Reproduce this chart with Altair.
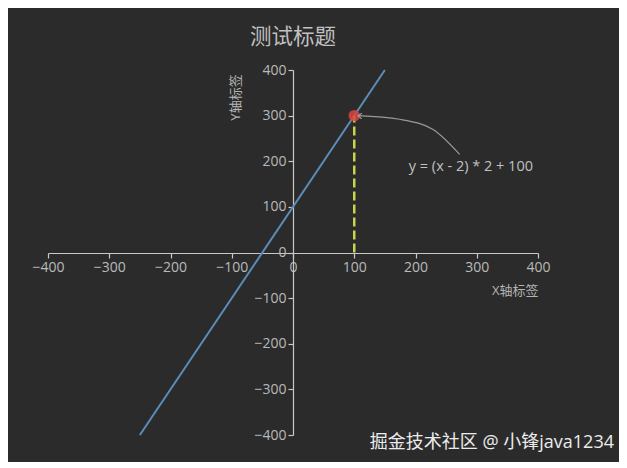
import altair as alt
import pandas as pd

# ---- data ----
line_x = [-250, 150]
line_y = [-400, 400]
point_x = [100]
point_y = [300]
drop_x = [100, 100]
drop_y = [0, 300]
arrow_x = [272, 228, 174, 106]
arrow_y = [215, 270, 292, 300]
note_x = [189]
note_y = [188]
note_text = ["y = (x - 2) * 2 + 100"]
tick_values = [-400, -300, -200, -100, 0, 100, 200, 300, 400]
title_text = "测试标题"
x_title = "X轴标签"
y_title = "Y轴标签"
watermark = "掘金技术社区 @ 小锋java1234"

FONT = "Open Sans, Noto Sans CJK SC"
BG = "#2b2b2b"

xs = alt.Scale(domain=[-400, 400], nice=False, zero=False)
ys = alt.Scale(domain=[-400, 400], nice=False, zero=False)

line_df = pd.DataFrame({"x": line_x, "y": line_y})
pt_df = pd.DataFrame({"x": point_x, "y": point_y})
drop_df = pd.DataFrame({"x": drop_x, "y": drop_y})
arrow_df = pd.DataFrame({"x": arrow_x, "y": arrow_y, "o": list(range(len(arrow_x)))})
head_df = pd.DataFrame({"x": arrow_x[-1:], "y": arrow_y[-1:]})
note_df = pd.DataFrame({"x": note_x, "y": note_y, "t": note_text})
wm_df = pd.DataFrame({"t": [watermark]})

axis_common = dict(
    values=tick_values, grid=False, domainColor="#c8c8c8", tickColor="#c8c8c8",
    labelColor="#bababa", labelFontSize=14, labelFont=FONT, labelOverlap=False,
    labelFlush=False, tickSize=5, domainWidth=1.2, tickWidth=1.2,
    titleColor="#b4b4b4", titleFont=FONT, titleFontSize=13, titleFontWeight="normal",
)

x_axis = alt.Axis(
    offset=-182, title=x_title, titleX=490, titleY=37, titleAlign="right",
    titleBaseline="middle", format="d", **axis_common,
)
y_axis = alt.Axis(
    offset=-245, title=y_title, titleX=-58, titleY=27, titleAngle=270,
    titleAlign="center", titleBaseline="middle", format="d", **axis_common,
)

X = lambda: alt.X("x:Q", scale=xs, title=x_title)
Y = lambda: alt.Y("y:Q", scale=ys, title=y_title)

line = alt.Chart(line_df).mark_line(color="#5b8db8", strokeWidth=2).encode(
    x=alt.X("x:Q", scale=xs, axis=x_axis, title=x_title),
    y=alt.Y("y:Q", scale=ys, axis=y_axis, title=y_title),
)

drop = alt.Chart(drop_df).mark_line(color="#c8d44a", strokeWidth=2.5, strokeDash=[9, 4]).encode(
    x=X(), y=Y(),
)

pt = alt.Chart(pt_df).mark_circle(color="#d9443f", opacity=0.85, size=130).encode(
    x=X(), y=Y(),
)

arrow = alt.Chart(arrow_df).mark_line(color="#9a9a9a", strokeWidth=1.2, interpolate="monotone").encode(
    x=X(), y=Y(), order="o:Q",
)

head = alt.Chart(head_df).mark_point(
    shape="M 1 -0.7 L 0 0 L 1 0.7", filled=False, color="#9a9a9a",
    strokeWidth=1.2, size=60, angle=6, opacity=1,
).encode(
    x=X(), y=Y(),
)

note = alt.Chart(note_df).mark_text(
    align="left", baseline="middle", fontSize=14.5, font=FONT, color="#c0c0c0",
).encode(
    x=X(), y=Y(), text="t:N",
)

wm = alt.Chart(wm_df).mark_text(
    align="right", baseline="middle", fontSize=18, font=FONT, color="#ececec",
).encode(
    x=alt.value(566), y=alt.value(373), text="t:N",
)

chart = alt.layer(line, drop, pt, arrow, head, note, wm).properties(
    width=490, height=365,
    title=alt.TitleParams(title_text, color="#c0c0c0", fontSize=21.5, font=FONT,
                          fontWeight="normal", anchor="middle", offset=15),
    autosize=alt.AutoSizeParams(type="none"),
    padding={"left": 40, "top": 62, "right": 81, "bottom": 27},
).configure(background=BG).configure_view(stroke=None)

chart.save("out.html", embed_options={"renderer": "svg", "actions": False})
